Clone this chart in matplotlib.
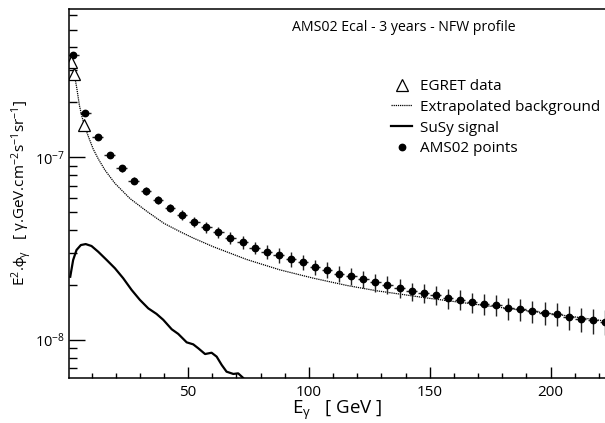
import numpy as np
import matplotlib
matplotlib.use('Agg')
from matplotlib import pyplot as plt
from matplotlib.ticker import LogLocator, MultipleLocator

plt.rcParams['font.family'] = ['Open Sans', 'DejaVu Sans']
plt.rcParams['mathtext.fontset'] = 'custom'
plt.rcParams['mathtext.rm'] = 'Open Sans'
plt.rcParams['mathtext.it'] = 'Open Sans:italic'
plt.rcParams['mathtext.fallback'] = 'stixsans'

# EGRET points [GeV], E^2 flux
egret_e = [1.5, 2.9, 6.9]
egret_flux = [3.34e-7, 2.86e-7, 1.50e-7]

# extrapolated background
bg_e = [2.0, 3.0, 4.0, 5.0, 6.0, 7.0, 8.7, 10.7, 12.8, 15.6, 19.7, 25.9, 33.0,
        40.0, 46.6, 52.0, 60.4, 74.2, 88.0, 101.8, 115.6, 128.0, 150.0, 173.5,
        201.0, 222.5]
bg_flux = [3.25e-7, 2.8e-7, 2.35e-7, 1.92e-7, 1.68e-7, 1.50e-7, 1.30e-7,
           1.11e-7, 9.8e-8, 8.5e-8, 7.2e-8, 5.95e-8, 5.05e-8, 4.35e-8, 3.92e-8,
           3.62e-8, 3.24e-8, 2.76e-8, 2.42e-8, 2.18e-8, 1.99e-8, 1.86e-8,
           1.69e-8, 1.54e-8, 1.39e-8, 1.27e-8]

# SuSy signal
susy_e = [1.2, 2.4, 3.8, 5.6, 7.6, 10.0, 12.8, 16.3, 19.7, 23.1, 26.6, 30.0,
          33.5, 36.9, 39.7, 43.2, 45.9, 49.4, 52.1, 54.2, 57.0, 59.7, 61.8,
          63.9, 65.9, 68.7, 70.7, 72.8, 75.0]
susy_flux = [2.22e-8, 2.74e-8, 3.11e-8, 3.31e-8, 3.35e-8, 3.27e-8, 3.04e-8,
             2.74e-8, 2.47e-8, 2.18e-8, 1.88e-8, 1.66e-8, 1.49e-8, 1.39e-8,
             1.29e-8, 1.145e-8, 1.08e-8, 9.71e-9, 9.47e-9, 9.01e-9, 8.38e-9,
             8.52e-9, 8.11e-9, 7.30e-9, 6.71e-9, 6.52e-9, 6.57e-9, 6.2e-9,
             5.5e-9]

# AMS02 simulated points (bin centres every 5 GeV)
ams_e = [2.5, 7.5, 12.5, 17.5, 22.5, 27.5, 32.5, 37.5, 42.5, 47.5, 52.5, 57.5,
         62.5, 67.5, 72.5, 77.5, 82.5, 87.5, 92.5, 97.5, 102.5, 107.5, 112.5,
         117.5, 122.5, 127.5, 132.5, 137.5, 142.5, 147.5, 152.5, 157.5, 162.5,
         167.5, 172.5, 177.5, 182.5, 187.5, 192.5, 197.5, 202.5, 207.5, 212.5,
         217.5, 222.5]
ams_flux = [3.63e-7, 1.74e-7, 1.286e-7, 1.03e-7, 8.7e-8, 7.44e-8, 6.54e-8,
            5.86e-8, 5.28e-8, 4.83e-8, 4.44e-8, 4.14e-8, 3.89e-8, 3.61e-8,
            3.44e-8, 3.20e-8, 3.04e-8, 2.91e-8, 2.77e-8, 2.67e-8, 2.51e-8,
            2.42e-8, 2.31e-8, 2.24e-8, 2.16e-8, 2.07e-8, 2.01e-8, 1.93e-8,
            1.85e-8, 1.81e-8, 1.76e-8, 1.70e-8, 1.66e-8, 1.61e-8, 1.58e-8,
            1.56e-8, 1.49e-8, 1.47e-8, 1.44e-8, 1.41e-8, 1.39e-8, 1.34e-8,
            1.30e-8, 1.28e-8, 1.26e-8]
# relative errors
ams_relerr = [0.03, 0.03, 0.035, 0.04, 0.04, 0.045, 0.05, 0.05, 0.055, 0.06,
              0.065, 0.07, 0.07, 0.075, 0.08, 0.08, 0.085, 0.09, 0.09, 0.095,
              0.095, 0.10, 0.10, 0.105, 0.105, 0.11, 0.11, 0.115, 0.115, 0.12,
              0.12, 0.125, 0.125, 0.13, 0.13, 0.135, 0.135, 0.14, 0.14, 0.145,
              0.145, 0.15, 0.15, 0.155, 0.155]
ams_bin_half = 2.2

fig = plt.figure(figsize=(6.05, 4.23), dpi=100)
ax = fig.add_axes([0.1145, 0.1071, 0.887, 0.8716])

ax.plot(bg_e, bg_flux, color='black', lw=0.9, ls=(0, (1, 0.7)),
        label='Extrapolated background')
ax.plot(susy_e, susy_flux, color='black', lw=1.6, label='SuSy signal')

ams_flux = np.array(ams_flux)
ax.errorbar(ams_e, ams_flux, yerr=ams_flux * np.array(ams_relerr),
            xerr=ams_bin_half, fmt='none', ecolor='#222222', elinewidth=1.0)
ax.plot(ams_e, ams_flux, 'o', color='black', ms=4.6, label='AMS02 points')
ax.plot(egret_e, egret_flux, '^', mfc='white', mec='black', mew=0.9, ms=8.5,
        ls='none', label='EGRET data')

ax.set_yscale('log')
ax.set_xlim(0.8, 222.9)
ax.set_ylim(6.22e-9, 6.48e-7)

ax.xaxis.set_major_locator(MultipleLocator(50))
ax.xaxis.set_minor_locator(MultipleLocator(10))
ax.yaxis.set_major_locator(LogLocator(base=10))
ax.yaxis.set_minor_locator(LogLocator(base=10, subs=np.arange(2, 10)))
ax.tick_params(which='both', direction='in', top=False, right=False,
               width=1.0, labelsize=11)
ax.tick_params(axis='x', which='major', length=8, pad=5)
ax.tick_params(axis='x', which='minor', length=3.8)
ax.tick_params(axis='y', which='major', length=11.5, pad=3, labelsize=10.5)
ax.tick_params(axis='y', which='minor', length=6)
ax.spines['right'].set_visible(False)
for s in ['left', 'bottom', 'top']:
  ax.spines[s].set_linewidth(1.1)

ax.set_xlabel(r'E$_{\mathrm{\gamma}}$   [ GeV ]', fontsize=13.5, va='center')
ax.xaxis.set_label_coords(0.499, -0.089)
ax.set_ylabel(r'E$^{2}$.$\mathrm{\phi}_{\mathrm{\gamma}}$   [ $\mathrm{\gamma}$.GeV.cm$^{-2}$s$^{-1}$sr$^{-1}$]',
              fontsize=11, va='center')
ax.yaxis.set_label_coords(-0.088, 0.5)

ax.text(0.6236, 0.9485, 'AMS02 Ecal - 3 years - NFW profile',
        transform=ax.transAxes, ha='center', va='center', fontsize=10.2)

handles, labels = ax.get_legend_handles_labels()
order = ['EGRET data', 'Extrapolated background', 'SuSy signal', 'AMS02 points']
hmap = dict(zip(labels, handles))
ax.legend([hmap[k] for k in order], order, loc='upper left',
          bbox_to_anchor=(391 / 605, 1 - 79 / 423),
          bbox_transform=fig.transFigure, frameon=False, fontsize=11,
          handlelength=1.4, handletextpad=0.5, labelspacing=0.38,
          borderpad=0, borderaxespad=0, numpoints=1)

fig.savefig('out.png', dpi=100)
